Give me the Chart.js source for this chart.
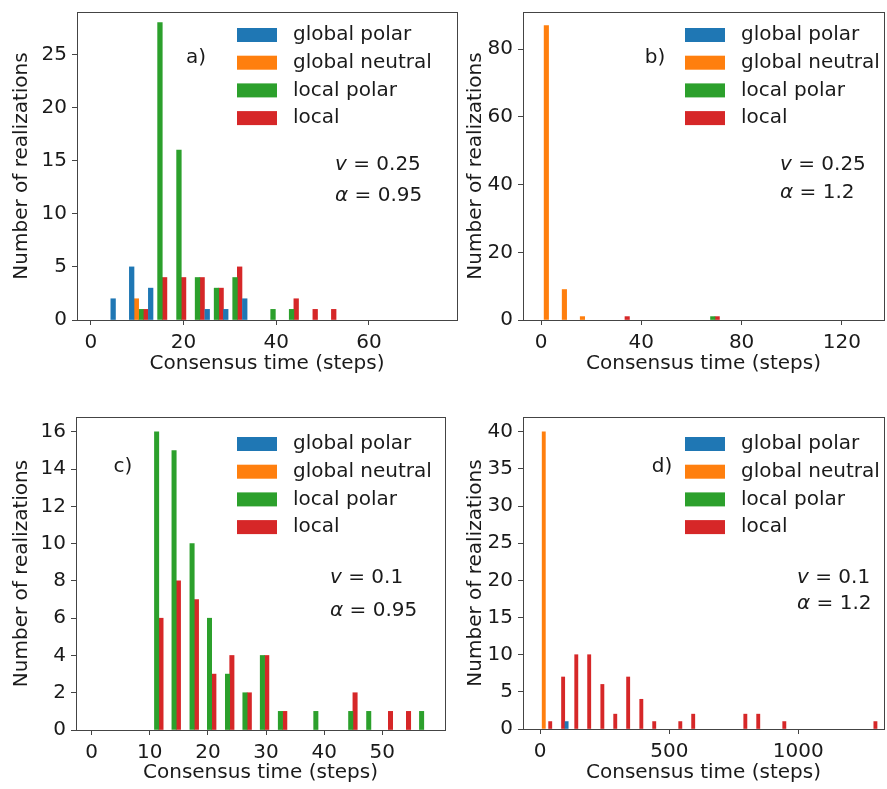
<!DOCTYPE html>
<html><head><meta charset="utf-8">
<script src="https://cdn.jsdelivr.net/npm/chart.js@4.4.0/dist/chart.umd.min.js"></script>
<style>
html,body{margin:0;padding:0;background:#fff;width:887px;height:789px;overflow:hidden;position:relative}
canvas{position:absolute;display:block}
</style></head><body>
<canvas id="ca" width="470" height="395" style="left:0;top:0"></canvas>
<canvas id="cb" width="437" height="395" style="left:450px;top:0"></canvas>
<canvas id="cc" width="470" height="394" style="left:0;top:395px"></canvas>
<canvas id="cd" width="437" height="394" style="left:450px;top:395px"></canvas>
<script>
// ---- series names & colours
const seriesNames = ['global polar', 'global neutral', 'local polar', 'local'];
const seriesColors = ['#1f77b4', '#ff7f0e', '#2ca02c', '#d62728'];

// ---- panel a) v=0.25, alpha=0.95
const binsA = [6.3, 10.3, 14.4, 18.5, 22.5, 26.6, 30.6, 34.7, 38.8, 42.8, 46.9, 50.9];
const globalPolarA  = [2, 5, 3, 0, 0, 1, 1, 2, 0, 0, 0, 0];
const globalNeutralA= [0, 2, 0, 0, 0, 0, 0, 0, 0, 0, 0, 0];
const localPolarA   = [0, 1, 28, 16, 4, 3, 4, 0, 1, 1, 0, 0];
const localA        = [0, 1, 4, 4, 4, 3, 5, 0, 0, 2, 1, 1];
const xTicksA = [0, 20, 40, 60];
const yTicksA = [0, 5, 10, 15, 20, 25];

// ---- panel b) v=0.25, alpha=1.2
const binsB = [3.0, 10.2, 17.4, 24.5, 31.7, 38.9, 46.1, 53.3, 60.4, 67.6];
const globalPolarB  = [0, 0, 0, 0, 0, 0, 0, 0, 0, 0];
const globalNeutralB= [87, 9, 1, 0, 0, 0, 0, 0, 0, 0];
const localPolarB   = [0, 0, 0, 0, 0, 0, 0, 0, 0, 1];
const localB        = [0, 0, 0, 0, 1, 0, 0, 0, 0, 1];
const xTicksB = [0, 40, 80, 120];
const yTicksB = [0, 20, 40, 60, 80];

// ---- panel c) v=0.1, alpha=0.95
const binsC = [10.8, 13.8, 16.9, 19.9, 23.0, 26.0, 29.0, 32.1, 35.1, 38.2, 41.2, 44.2, 47.3, 50.3, 53.4, 56.4];
const globalPolarC  = [0, 0, 0, 0, 0, 0, 0, 0, 0, 0, 0, 0, 0, 0, 0, 0];
const globalNeutralC= [0, 0, 0, 0, 0, 0, 0, 0, 0, 0, 0, 0, 0, 0, 0, 0];
const localPolarC   = [16, 15, 10, 6, 3, 2, 4, 1, 0, 1, 0, 1, 1, 0, 0, 1];
const localC        = [6, 8, 7, 3, 4, 2, 4, 1, 0, 0, 0, 2, 0, 1, 1, 0];
const xTicksC = [0, 10, 20, 30, 40, 50];
const yTicksC = [0, 2, 4, 6, 8, 10, 12, 14, 16];

// ---- panel d) v=0.1, alpha=1.2
const binsD = [20, 70, 121, 171, 222, 272, 322, 373, 423, 474, 524, 574, 625, 675, 726, 776, 826, 877, 927, 978, 1028, 1078, 1129, 1179, 1230, 1280];
const globalPolarD  = [0, 0, 1, 0, 0, 0, 0, 0, 0, 0, 0, 0, 0, 0, 0, 0, 0, 0, 0, 0, 0, 0, 0, 0, 0, 0];
const globalNeutralD= [40, 0, 0, 0, 0, 0, 0, 0, 0, 0, 0, 0, 0, 0, 0, 0, 0, 0, 0, 0, 0, 0, 0, 0, 0, 0];
const localPolarD   = [0, 0, 0, 0, 0, 0, 0, 0, 0, 0, 0, 0, 0, 0, 0, 0, 0, 0, 0, 0, 0, 0, 0, 0, 0, 0];
const localD        = [1, 7, 10, 10, 6, 2, 7, 4, 1, 0, 1, 2, 0, 0, 0, 2, 2, 0, 1, 0, 0, 0, 0, 0, 0, 1];
const xTicksD = [0, 500, 1000];
const yTicksD = [0, 5, 10, 15, 20, 25, 30, 35, 40];

const FONT = '"DejaVu Sans", sans-serif';
const TEXT = '#1a1a1a';
const SPINE = '#444';

const decoPlugin = {
  id: 'deco',
  afterDraw(chart, args, o) {
    const ctx = chart.ctx, ca = chart.chartArea;
    ctx.save();
    ctx.strokeStyle = SPINE; ctx.lineWidth = 1;
    ctx.strokeRect(Math.round(ca.left) + 0.5, Math.round(ca.top) + 0.5, Math.round(ca.width), Math.round(ca.height));
    // legend
    ctx.font = '20px ' + FONT; ctx.textBaseline = 'middle'; ctx.textAlign = 'left';
    chart.data.datasets.forEach((ds, i) => {
      const y = ca.top + o.legY + i * o.legDy;
      ctx.fillStyle = ds.backgroundColor;
      ctx.fillRect(ca.left + o.legX, y - 7, 40, 14);
      ctx.fillStyle = TEXT;
      ctx.fillText(ds.label, ca.left + o.legX + 56, y);
    });
    // panel tag
    ctx.textAlign = 'center';
    ctx.fillText(o.tag, ca.left + o.tagX, ca.top + o.tagY);
    // parameter texts
    ctx.textAlign = 'left';
    o.params.forEach((p, i) => {
      let x = ca.left + o.parX;
      const y = ca.top + o.parY[i];
      ctx.font = 'italic 20px ' + FONT;
      ctx.fillText(p[0], x, y);
      x += ctx.measureText(p[0]).width;
      ctx.font = '20px ' + FONT;
      ctx.fillText(' = ' + p[1], x, y);
    });
    ctx.restore();
  }
};

function makePanel(id, p) {
  const series = p.series;
  new Chart(document.getElementById(id), {
    type: 'bar',
    data: {
      datasets: seriesNames.map((name, i) => ({
        label: name,
        data: p.bins.map((c, j) => ({x: c, y: series[i][j] === 0 ? null : series[i][j]})),
        backgroundColor: seriesColors[i],
        borderWidth: 0,
        categoryPercentage: 1,
        barPercentage: 1
      }))
    },
    plugins: [decoPlugin],
    options: {
      responsive: false,
      animation: false,
      events: [],
      layout: {padding: p.pad},
      plugins: {legend: {display: false}, tooltip: {enabled: false}, deco: p.deco},
      scales: {
        x: {
          type: 'linear', min: p.xMin, max: p.xMax, offset: false,
          afterBuildTicks: ax => { ax.ticks = p.xTicks.map(v => ({value: v})); },
          afterFit: ax => { ax.height = p.xAxisH; ax.paddingLeft = 0; ax.paddingRight = 0; },
          grid: {offset: false, drawOnChartArea: false, drawTicks: true, tickLength: 5, color: SPINE, lineWidth: 1},
          border: {display: false},
          ticks: {font: {family: FONT, size: 20}, color: TEXT, padding: 6, maxRotation: 0, autoSkip: false, callback: v => String(v)},
          title: {display: true, text: 'Consensus time (steps)', font: {family: FONT, size: 20}, color: TEXT, padding: {top: 0, bottom: p.xTitlePad}}
        },
        y: {
          type: 'linear', min: 0, max: p.yMax,
          afterBuildTicks: ax => { ax.ticks = p.yTicks.map(v => ({value: v})); },
          afterFit: ax => { ax.width = p.yAxisW; ax.paddingTop = 0; ax.paddingBottom = 0; },
          grid: {drawOnChartArea: false, drawTicks: true, tickLength: 5, color: SPINE, lineWidth: 1},
          border: {display: false},
          ticks: {font: {family: FONT, size: 20}, color: TEXT, padding: 5, autoSkip: false, callback: v => String(v)},
          title: {display: true, text: 'Number of realizations', font: {family: FONT, size: 20}, color: TEXT, padding: {top: p.yTitlePad, bottom: 0}}
        }
      }
    }
  });
}

makePanel('ca', {
  bins: binsA, series: [globalPolarA, globalNeutralA, localPolarA, localA],
  xMin: -3, xMax: 79, yMax: 29, xTicks: xTicksA, yTicks: yTicksA,
  pad: {left: 0, top: 12, right: 13, bottom: 0}, yAxisW: 77, xAxisH: 75, xTitlePad: 19, yTitlePad: 10,
  deco: {legX: 160, legY: 23, legDy: 27.7, tag: 'a)', tagX: 119, tagY: 46, parX: 258, parY: [153, 184], params: [['v', '0.25'], ['α', '0.95']]}
});
makePanel('cb', {
  bins: binsB, series: [globalPolarB, globalNeutralB, localPolarB, localB],
  xMin: -7.2, xMax: 136.8, yMax: 91, xTicks: xTicksB, yTicks: yTicksB,
  pad: {left: 0, top: 12, right: 3, bottom: 0}, yAxisW: 73, xAxisH: 75, xTitlePad: 19, yTitlePad: 14,
  deco: {legX: 162, legY: 23, legDy: 27.7, tag: 'b)', tagX: 132, tagY: 46, parX: 257, parY: [153, 181], params: [['v', '0.25'], ['α', '1.2']]}
});
makePanel('cc', {
  bins: binsC, series: [globalPolarC, globalNeutralC, localPolarC, localC],
  xMin: -2.7, xMax: 60.8, yMax: 16.8, xTicks: xTicksC, yTicks: yTicksC,
  pad: {left: 0, top: 22, right: 25, bottom: 0}, yAxisW: 76, xAxisH: 59, xTitlePad: 4, yTitlePad: 10,
  deco: {legX: 161, legY: 27, legDy: 27.7, tag: 'c)', tagX: 47, tagY: 50, parX: 254, parY: [161, 194], params: [['v', '0.1'], ['α', '0.95']]}
});
makePanel('cd', {
  bins: binsD, series: [globalPolarD, globalNeutralD, localPolarD, localD],
  xMin: -66.7, xMax: 1332, yMax: 42, xTicks: xTicksD, yTicks: yTicksD,
  pad: {left: 0, top: 22, right: 3, bottom: 0}, yAxisW: 73, xAxisH: 60, xTitlePad: 4, yTitlePad: 14,
  deco: {legX: 162, legY: 27, legDy: 27.7, tag: 'd)', tagX: 139, tagY: 50, parX: 274, parY: [161, 187], params: [['v', '0.1'], ['α', '1.2']]}
});
</script>
</body></html>
